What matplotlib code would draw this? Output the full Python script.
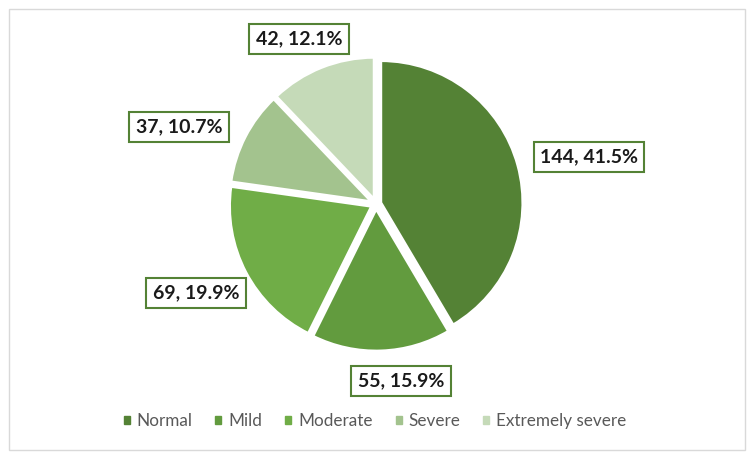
import matplotlib.pyplot as plt
from matplotlib.patches import Rectangle

plt.rcParams['font.family'] = ['Lato', 'DejaVu Sans']

categories = ['Normal', 'Mild', 'Moderate', 'Severe', 'Extremely severe']
counts = [144, 55, 69, 37, 42]
percents = [41.5, 15.9, 19.9, 10.7, 12.1]
colors = ['#548235', '#629b3e', '#70ad47', '#a3c38e', '#c5dab8']

# label box centres, in pixel coords (y from top)
label_pos = [(589, 157), (401, 381), (196, 293), (179, 127), (299, 39)]

W, H = 750, 458
fig = plt.figure(figsize=(7.5, 4.58), dpi=100)
ax = fig.add_axes([0, 0, 1, 1])

ax.pie(counts, colors=colors, startangle=90, counterclock=False,
       center=(376, H - 204), radius=142, explode=[5] * 5,
       wedgeprops=dict(edgecolor='white', linewidth=2), frame=True)
ax.set_xlim(0, W)
ax.set_ylim(0, H)
ax.set_aspect('equal')
ax.axis('off')

# outer chart frame
ax.add_patch(Rectangle((8.5, 8.5), 736, 441, fill=False, edgecolor='#d9d9d9', lw=1))

for (x, y), c, p in zip(label_pos, counts, percents):
    ax.text(x, H - y, f'{c}, {p}%', ha='center', va='center', fontsize=14,
            fontweight='bold', color='#1a1a1a',
            bbox=dict(boxstyle='square,pad=0.33', fc='white', ec='#548235', lw=1.5))

handles = [Rectangle((0, 0), 1, 1, color=col) for col in colors]
leg = ax.legend(handles, categories, loc='center', bbox_to_anchor=(0.5, 1 - 421 / H),
                ncol=5, frameon=False, fontsize=12.3, handlelength=0.35, handleheight=0.35,
                handletextpad=0.4, columnspacing=1.35)
for t in leg.get_texts():
    t.set_color('#595959')

fig.savefig('out.png', dpi=100)
